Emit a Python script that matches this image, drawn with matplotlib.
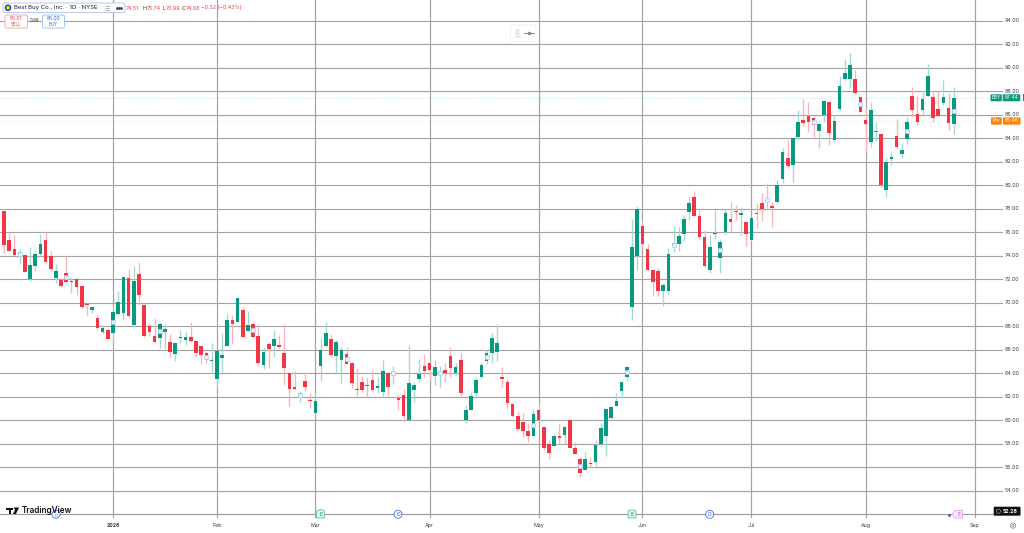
import matplotlib
matplotlib.use("Agg")
import matplotlib.pyplot as plt
from matplotlib.patches import FancyBboxPatch, Rectangle, Circle, Polygon

plt.rcParams['font.family'] = ['Inter', 'DejaVu Sans']

opens = [
 77.83,75.36,74.54,74.06,74.08,72.01,73.09,74.17,75.31,74.00,
 72.10,71.90,72.55,71.78,72.01,71.39,69.80,69.37,68.72,67.55,
 67.67,67.44,69.03,69.17,72.12,68.12,72.47,69.80,67.98,67.18,
 66.96,67.50,66.67,65.62,66.98,66.81,67.07,66.76,66.33,65.71,
 65.02,63.52,65.34,66.36,68.52,68.35,69.37,67.61,68.21,67.13,
 64.68,66.47,66.36,66.42,65.76,64.03,62.81,62.01,63.32,61.73,
 60.59,64.63,66.33,66.93,65.48,65.13,65.64,64.85,62.66,63.23,
 62.92,63.40,62.77,62.41,64.00,64.00,61.87,62.12,60.02,62.55,
 63.49,64.62,64.85,63.77,64.00,64.31,65.44,64.00,65.16,60.02,
 60.90,62.29,63.71,65.02,65.70,65.81,63.68,63.26,61.38,60.33,
 59.82,59.08,58.66,60.87,59.45,58.00,57.83,58.69,58.77,60.02,
 57.66,56.70,55.76,56.41,56.47,57.97,58.71,60.22,61.21,62.46,
 63.66,69.66,73.99,76.54,74.53,72.78,72.66,71.02,71.02,74.82,
 74.99,75.86,77.73,79.01,77.36,75.55,72.75,75.86,73.82,76.00,
 77.11,77.79,77.45,76.88,75.30,77.59,78.44,78.72,78.22,78.53,
 80.56,82.29,81.72,84.08,85.55,85.89,85.69,84.62,85.98,87.03,
 83.85,86.46,89.05,88.99,88.99,87.49,85.53,83.65,84.50,84.39,
 79.59,82.23,84.16,82.63,83.91,87.57,86.01,86.38,87.60,87.51,
 86.49,86.95,86.55,85.19]
closes = [
 74.93,74.37,74.03,74.28,72.58,73.17,74.14,75.00,73.46,72.86,
 72.66,71.44,71.76,71.87,71.30,69.60,69.77,69.65,67.86,67.86,
 66.93,69.20,70.05,72.18,68.83,71.84,70.62,67.18,67.50,66.67,
 68.15,67.78,65.82,66.59,67.07,67.07,66.73,65.76,65.56,65.14,
 65.11,65.88,65.56,68.49,68.18,70.42,67.07,68.09,67.07,64.85,
 65.82,66.10,66.93,66.27,64.48,62.70,62.67,62.32,62.84,61.67,
 61.62,65.99,67.41,65.59,66.70,65.98,64.79,63.14,62.60,62.58,
 62.89,62.60,62.89,64.19,62.80,64.05,61.70,60.36,63.20,63.00,
 63.94,64.17,64.28,64.54,64.05,64.02,64.48,64.56,62.35,60.87,
 62.06,63.40,64.68,65.70,66.98,66.61,63.51,61.50,60.39,59.25,
 59.08,58.71,60.50,60.02,57.61,57.24,58.69,58.54,59.42,57.63,
 57.15,55.48,56.70,56.30,57.89,59.31,60.99,61.16,61.67,63.26,
 64.56,74.70,77.96,74.96,72.78,71.73,70.99,71.53,74.16,75.04,
 75.64,77.08,78.50,77.39,75.55,73.09,74.70,75.95,75.13,77.62,
 76.88,77.68,77.62,75.86,77.22,77.53,77.96,78.67,78.02,80.00,
 82.83,81.63,84.00,85.36,85.30,85.38,85.13,85.19,87.12,84.42,
 85.44,88.45,89.50,90.21,87.83,86.26,85.24,86.35,84.56,79.99,
 82.00,82.43,83.28,83.00,85.36,86.41,85.41,87.31,89.25,85.72,
 85.87,87.51,85.30,87.44]
highs = [
 77.83,75.99,75.79,74.60,74.08,74.71,74.37,75.84,76.02,74.42,
 73.29,72.10,73.94,72.18,72.18,71.39,69.80,69.74,68.92,68.12,
 67.75,69.74,70.96,72.18,72.86,73.15,73.43,69.80,68.20,68.72,
 68.38,68.20,67.35,66.64,67.64,67.55,68.38,66.76,66.33,65.85,
 66.56,65.88,67.41,69.06,68.97,70.50,69.63,69.31,68.32,68.21,
 66.27,66.70,67.69,67.27,68.21,64.03,64.23,62.53,64.14,62.32,
 62.36,67.04,68.40,67.32,66.84,66.21,66.27,64.99,64.48,63.77,
 63.71,64.28,63.66,65.13,64.14,64.62,62.15,62.63,66.38,63.29,
 65.19,65.64,65.08,65.13,64.62,64.85,66.27,64.85,65.70,61.30,
 62.43,63.71,64.99,65.98,67.40,68.20,64.54,63.49,61.44,60.73,
 60.65,59.74,60.93,61.30,59.45,58.32,58.88,59.65,59.51,60.02,
 58.17,56.90,57.27,56.90,58.37,59.74,60.99,61.21,62.29,63.29,
 64.62,77.08,78.22,76.97,74.96,72.78,72.92,71.70,74.67,76.54,
 76.46,77.45,78.95,79.49,78.02,76.18,75.75,77.88,75.38,77.99,
 78.58,78.30,78.10,76.88,77.25,78.39,79.29,80.14,78.53,80.40,
 83.14,83.85,84.05,86.35,87.34,87.09,85.75,85.27,87.20,87.03,
 85.98,89.30,90.75,91.23,89.76,87.49,86.55,87.03,85.41,84.39,
 82.29,82.86,85.61,83.57,85.78,88.34,87.60,87.97,90.30,87.97,
 87.97,88.91,87.83,88.34]
lows = [
 74.23,74.37,74.03,73.29,72.58,71.87,72.66,73.94,73.37,72.75,
 71.67,71.33,71.67,70.82,70.62,69.54,68.94,69.11,67.64,67.35,
 66.93,66.70,68.97,68.55,68.69,68.06,69.82,67.07,67.13,66.61,
 66.19,66.05,65.42,65.08,66.61,66.42,66.70,65.42,64.80,64.85,
 64.14,62.87,64.14,66.36,66.47,68.32,66.98,67.61,66.98,64.66,
 64.34,64.43,65.36,66.13,63.01,61.22,62.58,61.53,62.58,61.02,
 60.54,63.35,66.27,65.48,64.00,63.14,64.76,62.72,62.06,62.38,
 61.95,62.52,62.35,61.95,62.09,63.06,60.87,59.88,60.02,61.58,
 63.29,63.66,63.43,63.00,62.86,63.26,63.71,63.77,62.06,59.79,
 60.87,61.95,63.66,64.76,64.90,65.08,62.86,60.99,60.25,59.17,
 58.60,58.17,58.66,59.96,57.52,56.70,57.81,57.97,57.97,57.61,
 57.12,55.14,55.76,55.99,56.13,57.81,56.98,59.93,61.21,61.90,
 63.34,68.53,72.78,74.76,72.72,70.60,70.57,69.72,70.74,74.28,
 74.42,75.24,77.03,77.36,75.50,73.06,72.49,75.41,72.55,75.75,
 76.03,77.03,75.75,74.76,75.27,76.32,76.97,78.02,76.46,78.50,
 80.21,81.58,80.30,83.85,85.04,84.56,84.13,83.14,85.41,83.42,
 83.79,86.35,88.96,88.30,87.77,86.18,82.86,83.28,83.79,79.87,
 79.02,81.72,83.14,82.29,83.51,85.78,85.13,85.98,87.60,85.33,
 85.84,86.78,84.70,84.36]

price_ticks = [94, 92, 90, 88, 86, 84, 82, 80, 78, 76, 74, 72, 70, 68, 66, 64, 62, 60, 58, 56, 54]
month_bars = [21, 41, 60, 82, 103, 123, 144, 166, 187]
month_labels = ['2026', 'Feb', 'Mar', 'Apr', 'May', 'Jun', 'Jul', 'Aug', 'Sep']
last_price = 87.44
pre_price = 85.48
marker_step = 9

UP, DOWN = '#089981', '#F23645'
UPW, DOWNW = '#a6d9cf', '#fab4ba'
GRID = '#a2a2a2'
TXT = '#3a3e4a'

W, H = 1024, 533
fig = plt.figure(figsize=(W / 100, H / 100), dpi=100, facecolor='white')
# plot area: px 0..1003 horizontally, 0..518 vertically
ax = fig.add_axes([0, 1 - 518 / H, 1003 / W, 518 / H])
ax.set_xlim(-4 / 5.19, (1003 - 4) / 5.19)
ax.set_ylim(94 - (518 - 20.5) / 11.76, 94 + 20.5 / 11.76)
ax.axis('off')

for p in price_ticks:
    ax.axhline(p, color=GRID, lw=0.8, zorder=1)
ax.axhline(94 - (514 - 20.5) / 11.76, color='#9a9a9a', lw=0.8, zorder=1)
for m in month_bars:
    ax.axvline(m, color=GRID, lw=0.85, zorder=1)
ax.axhline(last_price, color=UP, lw=0.5, ls=(0, (1, 2)), alpha=0.4, zorder=1.5)
ax.axhline(pre_price, color='#F68410', lw=0.5, ls=(0, (1, 2)), alpha=0.3, zorder=1.5)

idx = list(range(len(closes)))
is_up = [c >= o for o, c in zip(opens, closes)]
ax.vlines(idx, lows, highs, colors=[UPW if u else DOWNW for u in is_up], lw=0.95, zorder=2)
ax.bar(idx, [max(abs(c - o), 0.1) for o, c in zip(opens, closes)],
       bottom=[min(o, c) for o, c in zip(opens, closes)], width=0.7,
       color=[UP if u else DOWN for u in is_up], lw=0, zorder=3)
mk = idx[3::marker_step]
ax.plot(mk, [(opens[i] + closes[i]) / 2 for i in mk], ls='none', marker='s', ms=2.2,
        mfc='#e8effc', mec='#b4cbf7', mew=0.5, zorder=4)

# pixel-space overlay for the interface furniture
ov = fig.add_axes([0, 0, 1, 1], facecolor='none')
ov.set_xlim(0, W)
ov.set_ylim(H, 0)
ov.axis('off')


def box(x0, y0, x1, y1, fc, ec='none', r=1.5, lw=0.7, z=6):
    ov.add_patch(FancyBboxPatch((x0 + r, y0 + r), x1 - x0 - 2 * r, y1 - y0 - 2 * r,
                                boxstyle=f'round,pad={r},rounding_size={r}',
                                fc=fc, ec=ec, lw=lw, zorder=z))


# price axis
for p in price_ticks:
    ov.text(1012, 20.5 + (94 - p) * 11.76, f'{p:.2f}', fontsize=3.8, color=TXT,
            ha='center', va='center')
# time axis
for m, lab in zip(month_bars, month_labels):
    ov.text(4 + 5.19 * m, 525.3, lab, fontsize=3.8, color=TXT, ha='center', va='center',
            fontweight='bold' if lab == '2026' else 'normal')
ov.add_patch(Circle((1013, 525.6), 2.6, fc='white', ec='#777777', lw=0.5, zorder=6))
ov.add_patch(Circle((1013, 525.6), 1.0, fc='white', ec='#777777', lw=0.4, zorder=6))

# legend header
box(3, 3, 125, 12.5, 'white', '#b5c9f7', r=2)
ov.add_patch(Circle((8, 7.8), 3.3, fc='#0a46c8', ec='none', zorder=7))
ov.add_patch(Circle((8, 7.8), 1.8, fc='#ffe000', ec='none', zorder=8))
ov.text(14, 8, 'Best Buy Co., Inc. · 1D · NYSE', fontsize=4.35, color='#1a1c24',
        va='center', zorder=7)
ov.plot([104.5, 108.5], [6, 6], color='#999999', lw=0.5, zorder=7)
ov.plot([104.5, 108.5], [7.8, 7.8], color='#999999', lw=0.5, zorder=7)
ov.plot([104.5, 108.5], [9.6, 9.6], color='#999999', lw=0.5, zorder=7)
ov.plot([116.5, 118.5, 120.5], [7.8, 7.8, 7.8], ls='none', marker='o', ms=1, color='#444444', zorder=7)
OH = 3.8
ov.text(125.5, 8, '74.51', fontsize=OH, color=DOWN, va='center', zorder=7)
ov.text(142.7, 8, 'H', fontsize=OH, color='#333333', va='center', zorder=7)
ov.text(146.8, 8, '75.74', fontsize=OH, color=DOWN, va='center', zorder=7)
ov.text(162.2, 8, 'L', fontsize=OH, color='#333333', va='center', zorder=7)
ov.text(165.6, 8, '73.99', fontsize=OH, color=DOWN, va='center', zorder=7)
ov.text(181.5, 8, 'C', fontsize=OH, color='#333333', va='center', zorder=7)
ov.text(185.4, 8, '74.06', fontsize=OH, color=DOWN, va='center', zorder=7)
ov.text(201, 8, '−0.32 (−0.43%)', fontsize=OH, color=DOWN, va='center', zorder=7)

# sell / buy buttons
box(5, 15, 27.5, 28, 'white', '#f6a9b0', r=2)
ov.text(16.2, 19, '85.01', fontsize=3.6, color=DOWN, ha='center', va='center', zorder=7)
ov.text(16.2, 24.3, 'SELL', fontsize=3.2, color=DOWN, ha='center', va='center', zorder=7)
ov.text(34.5, 21, '0.99', fontsize=3.2, color='#333333', ha='center', va='center', zorder=7)
box(42.5, 15, 64.5, 28, 'white', '#a9c3f6', r=2)
ov.text(53.5, 19, '86.00', fontsize=3.6, color='#2962FF', ha='center', va='center', zorder=7)
ov.text(53.5, 24.3, 'BUY', fontsize=3.2, color='#2962FF', ha='center', va='center', zorder=7)

# floating toolbar
box(510.5, 25, 536, 41.5, 'white', '#eeeeee', r=2, lw=0.6)
ov.plot([515.5, 517.5, 515.5, 517.5, 515.5, 517.5], [29.5, 29.5, 32.5, 32.5, 35.5, 35.5],
        ls='none', marker='.', ms=1, color='#d5d5d5', zorder=7)
ov.plot([524, 534], [32.5, 32.5], color='#666666', lw=0.6, zorder=7)
ov.plot([529], [32.5], marker='o', ms=1.6, color='#888888', zorder=7)

# last price / pre-market tags
box(990.5, 94.3, 1001.8, 101.3, '#089981', r=0.8)
ov.text(996, 97.8, 'BBY', fontsize=3.3, color='white', ha='center', va='center', zorder=7)
box(1002.7, 94.3, 1020.3, 101.3, '#089981', r=0.8)
ov.text(1011.5, 97.8, '87.44', fontsize=3.6, color='white', ha='center', va='center', zorder=7)
ov.add_patch(Rectangle((1022.5, 94.3), 1.5, 7, fc='#089981', zorder=6))
box(991, 117.3, 1001.8, 124.7, '#F68410', r=0.8)
ov.text(996.5, 121, 'Pre', fontsize=3.3, color='white', ha='center', va='center', zorder=7)
box(1003, 117.3, 1020.5, 124.7, '#F68410', r=0.8)
ov.text(1011.8, 121, '85.48', fontsize=3.6, color='white', ha='center', va='center', zorder=7)

# event badges
ov.add_patch(Circle((56, 514.3), 4, fc='white', ec='#2962FF', lw=0.6, zorder=5, alpha=0.9))
ov.text(56, 516.2, 'D', fontsize=2.8, color='#2962FF', ha='center', va='center', zorder=5)
for x in (398, 709.7):
    ov.add_patch(Circle((x, 514.3), 4, fc='white', ec='#2962FF', lw=0.6, zorder=5, alpha=0.9))
    ov.text(x, 514.4, 'D', fontsize=3.6, color='#2962FF', ha='center', va='center', zorder=5)
for x in (320.5, 632):
    ov.add_patch(Polygon([(x - 4, 511), (x, 509.5), (x + 4, 511), (x + 4, 518), (x - 4, 518)],
                         closed=True, fc='#d8f2ec', ec='#45b8a4', lw=0.5, zorder=5))
    ov.text(x, 514.4, 'E', fontsize=3.6, color='#089981', ha='center', va='center', zorder=6)
ov.add_patch(Polygon([(952, 514.3), (955, 510.5), (962.5, 510.5), (962.5, 518), (955, 518)],
                     closed=True, fc='#fbe9fb', ec='#e88fe8', lw=0.5, zorder=5))
ov.text(958.7, 514.4, 'E', fontsize=3.6, color='#c93fc9', ha='center', va='center', zorder=6)
ov.add_patch(Circle((949.5, 515.5), 1.4, fc='#5a3fc0', ec='none', zorder=6))

# TradingView logo
for poly in [[(6, 507.5), (13, 507.5), (13, 510), (11, 510), (11, 514), (8.5, 514), (8.5, 510), (6, 510)],
             [(13.5, 507.5), (19, 507.5), (16, 514), (13, 514), (15, 510)]]:
    ov.add_patch(Polygon(poly, closed=True, fc='#111111', ec='none', zorder=7))
ov.text(21.5, 510.5, 'TradingView', fontsize=5.9, color='#111111', va='center', fontweight='semibold', zorder=7)

# countdown badge
box(993.7, 506.7, 1020.5, 515.7, '#111111', r=1)
ov.add_patch(Circle((998.5, 511.2), 2.1, fc='none', ec='#999999', lw=0.5, zorder=7))
ov.text(1010.5, 511.3, '52.28', fontsize=3.7, color='white', ha='center', va='center',
        fontweight='bold', zorder=7)

fig.savefig('out.png', dpi=100, facecolor='white')
